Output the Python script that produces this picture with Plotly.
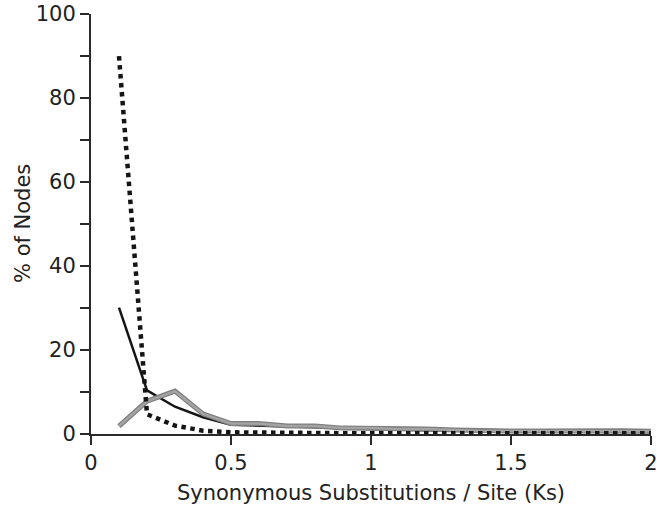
import plotly.graph_objects as go

ks = [0.1, 0.2, 0.3, 0.4, 0.5, 0.6, 0.7, 0.8, 0.9, 1.0,
      1.1, 1.2, 1.3, 1.4, 1.5, 1.6, 1.7, 1.8, 1.9, 2.0]

solid_black = [30.1, 10.4, 6.5, 4.0, 2.2, 2.0, 1.7, 1.5, 1.3, 1.2,
               1.0, 0.9, 0.8, 0.7, 0.6, 0.6, 0.6, 0.5, 0.5, 0.5]

dotted_black = [90.0, 4.7, 2.0, 0.8, 0.4, 0.3, 0.2, 0.2, 0.2, 0.2,
                0.2, 0.2, 0.2, 0.2, 0.2, 0.2, 0.2, 0.2, 0.2, 0.2]

grey = [1.9, 7.8, 10.2, 4.8, 2.5, 2.5, 1.9, 1.9, 1.4, 1.4,
        1.2, 1.2, 0.95, 0.7, 0.7, 0.7, 0.8, 0.65, 0.8, 0.65]

x_ticks = [0, 0.5, 1, 1.5, 2]
x_tick_text = ["0", "0.5", "1", "1.5", "2"]
y_ticks = [0, 20, 40, 60, 80, 100]

FONT = "DejaVu Sans"
AX = "#2a2a2a"
W, H = 657, 505
ML, MR, MT, MB = 91, 6, 14, 71

fig = go.Figure()
fig.add_trace(go.Scatter(x=ks, y=solid_black, mode="lines",
                         line=dict(color="#151515", width=2.5), showlegend=False))
fig.add_trace(go.Scatter(x=ks, y=grey, mode="lines",
                         line=dict(color="#7e7e7e", width=5), showlegend=False))
fig.add_trace(go.Scatter(x=ks, y=grey, mode="lines",
                         line=dict(color="#a3a3a3", width=2.5), showlegend=False))
fig.add_trace(go.Scatter(x=ks, y=dotted_black, mode="lines",
                         line=dict(color="#151515", width=4.5, dash="4.5px,4.5px"),
                         showlegend=False))

plot_w = W - ML - MR
fig.add_annotation(
    text="% of Nodes", textangle=-90,
    xref="paper", yref="paper",
    x=-(ML - 23) / plot_w, y=0.5,
    xanchor="center", yanchor="middle",
    showarrow=False, font=dict(size=21, color="#222", family=FONT),
)

fig.update_layout(
    width=W, height=H,
    margin=dict(l=ML, r=MR, t=MT, b=MB, autoexpand=False),
    paper_bgcolor="white", plot_bgcolor="white",
    font=dict(family=FONT, size=21, color="#222"),
    xaxis=dict(
        range=[0, 2.0005], tickvals=x_ticks, ticktext=x_tick_text,
        showgrid=False, zeroline=False, automargin=False,
        showline=True, linecolor=AX, linewidth=2,
        ticks="outside", ticklen=9, tickwidth=2, tickcolor=AX,
        ticklabeloverflow="allow",
        title=dict(text="Synonymous Substitutions / Site (Ks)", standoff=11,
                   font=dict(size=21)),
    ),
    yaxis=dict(
        range=[0, 100.02], tickvals=y_ticks,
        showgrid=False, zeroline=False, automargin=False,
        showline=True, linecolor=AX, linewidth=2,
        ticks="outside", ticklen=9, tickwidth=2, tickcolor=AX,
        minor=dict(dtick=10, tick0=0, ticks="outside", ticklen=9,
                   tickwidth=2, tickcolor=AX, showgrid=False),
    ),
)

fig.write_html("out.html")
